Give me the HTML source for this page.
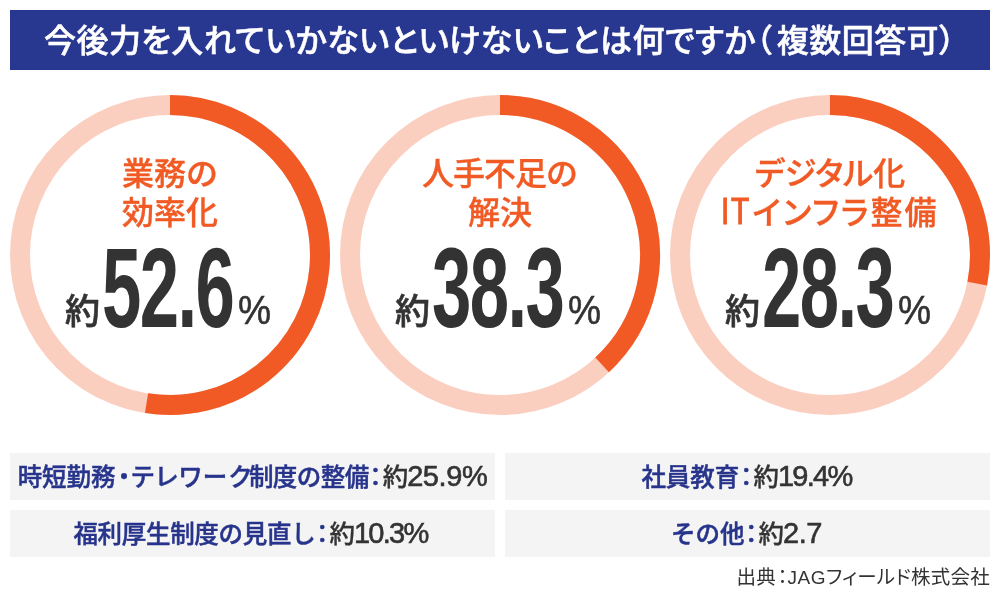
<!DOCTYPE html>
<html lang="ja">
<head>
<meta charset="utf-8">
<title>今後力を入れていかないといけないことは何ですか</title>
<style>
html,body{margin:0;padding:0;background:#fff;}
body{width:1000px;height:600px;position:relative;overflow:hidden;
  font-family:"Liberation Sans","Noto Sans CJK JP",sans-serif;color:#333;}
.abs{position:absolute;white-space:nowrap;}
#title{left:10px;top:10px;width:980px;height:60px;background:#28378f;}
#title span{position:absolute;left:34px;top:1px;line-height:60px;color:#fff;letter-spacing:0.45px;
  font-size:32px;font-weight:500;-webkit-text-stroke:0.55px #fff;white-space:nowrap;font-feature-settings:"palt";}
#title em{font-style:normal;margin-right:4.5px;}
svg#rings{position:absolute;left:0;top:0;}
.lab{position:absolute;width:320px;text-align:center;color:#f15a24;font-size:32px;
  line-height:39px;font-weight:500;white-space:nowrap;-webkit-text-stroke:0.35px #f15a24;}
.it{display:inline-block;font-size:36px;line-height:0;transform:scaleX(0.83);transform-origin:0 50%;margin-right:-5px;vertical-align:baseline;letter-spacing:2px;position:relative;top:0px;-webkit-text-stroke:1px #f15a24;}
.num{position:absolute;white-space:nowrap;}
.yaku{position:absolute;font-size:35px;font-weight:500;line-height:1;-webkit-text-stroke:0.6px #333;}
.big{position:absolute;font-size:114px;font-weight:700;line-height:1;transform-origin:0 0;transform:scaleX(0.62);letter-spacing:-2.5px;}
.pct{position:absolute;font-size:40px;font-weight:400;line-height:1;transform-origin:0 0;transform:scaleX(0.93);-webkit-text-stroke:0.55px #333;}
.box{position:absolute;background:#f4f4f4;height:47px;width:485px;text-align:center;
  line-height:47px;white-space:nowrap;}
.box b{color:#27348b;font-weight:500;font-size:24.5px;-webkit-text-stroke:0.45px #27348b;}
.box .c{display:inline-block;margin:0 -4.5px 0 -5.5px;}
.box .k{font-feature-settings:"palt";letter-spacing:1.9px;margin-right:-4px;}
.box .d{display:inline-block;margin:0 -4.5px 0 -4px;}
.box u{text-decoration:none;font-size:25.5px;font-weight:500;color:#333;margin-left:-0.5px;margin-right:-1px;-webkit-text-stroke:0.3px #333;}
.box i{font-style:normal;font-size:29px;letter-spacing:-0.4px;color:#333;-webkit-text-stroke:0.6px #333;position:relative;top:0px;}
#src{position:absolute;right:10px;top:565px;font-size:19.5px;line-height:24px;color:#333;font-weight:400;white-space:nowrap;font-feature-settings:"palt";letter-spacing:0.25px;}
</style>
</head>
<body>
<div id="title" class="abs"><span>今後力を入れていかないといけないことは何ですか<em>（</em>複数回答可）</span></div>

<svg id="rings" width="1000" height="600" viewBox="0 0 1000 600">
<circle cx="170" cy="255" r="150" fill="none" stroke="#fbcfc0" stroke-width="20"/>
<path d="M170 105 A150 150 0 1 1 146.53 403.15" fill="none" stroke="#f15a24" stroke-width="20"/>
<circle cx="500" cy="255" r="150" fill="none" stroke="#fbcfc0" stroke-width="20"/>
<path d="M500 105 A150 150 0 0 1 602.11 364.88" fill="none" stroke="#f15a24" stroke-width="20"/>
<circle cx="830" cy="255" r="150" fill="none" stroke="#fbcfc0" stroke-width="20"/>
<path d="M830 105 A150 150 0 0 1 977.24 283.62" fill="none" stroke="#f15a24" stroke-width="20"/>
</svg>

<div class="lab" style="left:10px;top:155px;">業務の<br>効率化</div>
<div class="lab" style="left:340px;top:155px;"><span style="letter-spacing:-1px;margin-right:1px;">人手不足の</span><br>解決</div>
<div class="lab" style="left:670px;top:155px;font-feature-settings:&quot;palt&quot;;"><span id="l3a">デジタル化</span><br><span id="l3b"><span class="it">IT</span><span style="letter-spacing:2px;">インフラ整備</span></span></div>

<div class="num" id="n1" style="left:0;top:0;">
  <span class="yaku" style="left:65px;top:294px;">約</span>
  <span class="big" style="left:102px;top:231px;">52.6</span>
  <span class="pct" style="left:238px;top:290px;">%</span>
</div>
<div class="num" id="n2" style="left:330px;top:0;">
  <span class="yaku" style="left:65px;top:294px;">約</span>
  <span class="big" style="left:102px;top:231px;">38.3</span>
  <span class="pct" style="left:238px;top:290px;">%</span>
</div>
<div class="num" id="n3" style="left:660px;top:0;">
  <span class="yaku" style="left:65px;top:294px;">約</span>
  <span class="big" style="left:102px;top:231px;">28.3</span>
  <span class="pct" style="left:238px;top:290px;">%</span>
</div>

<div class="box" style="left:10px;top:453px;"><b>時短勤務<span class="d">・</span><span class="k">テレワーク</span><span style="letter-spacing:-0.55px;">制度の整備</span><span class="c">：</span></b><u>約</u><i>25.9%</i></div>
<div class="box" style="left:10px;top:510px;width:481px;padding-right:4px;"><b><span style="letter-spacing:-0.3px;">福利厚生制度の見直し</span><span class="c">：</span></b><u>約</u><i style="letter-spacing:-1.7px;">10.3%</i></div>
<div class="box" style="left:505px;top:453px;width:483px;padding-right:2px;"><b>社員教育<span class="c">：</span></b><u>約</u><i style="letter-spacing:-1.7px;">19.4%</i></div>
<div class="box" style="left:505px;top:510px;width:483px;padding-right:2px;"><b>その他<span class="c">：</span></b><u>約</u><i>2.7</i></div>

<div id="src">出典<span style="margin-left:1.5px;">：</span><span style="font-size:19px;letter-spacing:0.45px;">JAG</span>フィールド株式会社</div>
</body>
</html>
